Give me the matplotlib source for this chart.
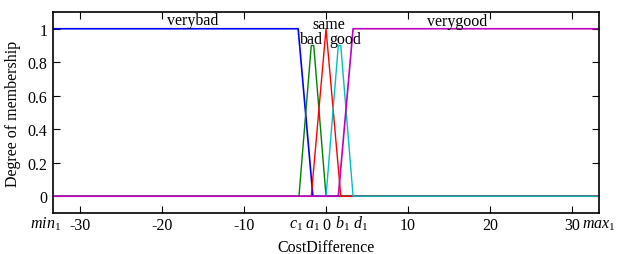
import matplotlib
matplotlib.use("Agg")
import matplotlib.pyplot as plt

plt.rcParams['font.family'] = ['Liberation Serif', 'DejaVu Serif']
plt.rcParams['mathtext.fontset'] = 'custom'
plt.rcParams['mathtext.it'] = 'Liberation Serif:italic'
plt.rcParams['mathtext.rm'] = 'Liberation Serif'
plt.rcParams['axes.unicode_minus'] = False

xmin, xmax = -33.3, 33.3

# membership functions (breakpoints)
verybad_x = [xmin, -3.4, -1.6, xmax]
verybad_y = [1, 1, 0, 0]
bad_x = [xmin, -3.3, -1.8, -1.5, 0, xmax]
bad_y = [0, 0, 0.9, 0.9, 0, 0]
same_x = [xmin, -1.8, 0, 1.8, xmax]
same_y = [0, 0, 1, 0, 0]
good_x = [xmin, 0, 1.5, 1.8, 3.3, xmax]
good_y = [0, 0, 0.9, 0.9, 0, 0]
verygood_x = [xmin, 1.5, 3.3, xmax]
verygood_y = [0, 0, 1, 1]

major_ticks = [-30, -20, -10, 0, 10, 20, 30]
special_pos = [-34.2, -3.7, -1.7, 2.0, 4.2, 33.3]
special_lbl = ['$min_1$', '$c_1$', '$a_1$', '$b_1$', '$d_1$', '$max_1$']

fig = plt.figure(figsize=(6.18, 2.55), dpi=100)
ax = fig.add_axes([0.0858, 0.161, 0.8835, 0.788])

ax.plot(verybad_x, verybad_y, color='b', lw=1.2)
ax.plot(bad_x, bad_y, color='g', lw=1.0)
ax.plot(same_x, same_y, color='r', lw=1.0)
ax.plot(good_x, good_y, color='c', lw=1.0)
ax.plot(verygood_x, verygood_y, color='m', lw=1.2)

fs = 11.5
ax.text(-16.3, 1.03, 'verybad', ha='center', va='baseline', fontsize=fs)
ax.text(16.0, 1.025, 'verygood', ha='center', va='baseline', fontsize=fs)
ax.text(0.3, 1.005, 'same', ha='center', va='baseline', fontsize=fs)
ax.text(-1.8, 0.915, 'bad', ha='center', va='baseline', fontsize=fs)
ax.text(2.4, 0.915, 'good', ha='center', va='baseline', fontsize=fs)

for p, lbl in zip(special_pos, special_lbl):
    ax.text(p, -0.075, lbl, ha='center', va='baseline', fontsize=fs,
            transform=ax.get_xaxis_transform())

ax.set_xlim(xmin, xmax)
ax.set_ylim(-0.1, 1.1)
ax.set_xticks(major_ticks)
ax.tick_params(axis='both', which='major', direction='in', top=True, right=True,
               length=5, labelsize=fs, width=0.8)
ax.tick_params(axis='x', pad=3)
ax.tick_params(axis='y', pad=4)
ax.set_yticks([0, 0.2, 0.4, 0.6, 0.8, 1])
ax.set_yticklabels(['0', '0.2', '0.4', '0.6', '0.8', '1'])
ax.set_xlabel('CostDifference', fontsize=fs)
ax.set_ylabel('Degree of membership', fontsize=fs)
ax.xaxis.set_label_coords(0.5, -0.13)
ax.yaxis.set_label_coords(-0.058, 0.5)
for s in ax.spines.values():
    s.set_linewidth(1.2)

fig.savefig('out.png', dpi=100)
